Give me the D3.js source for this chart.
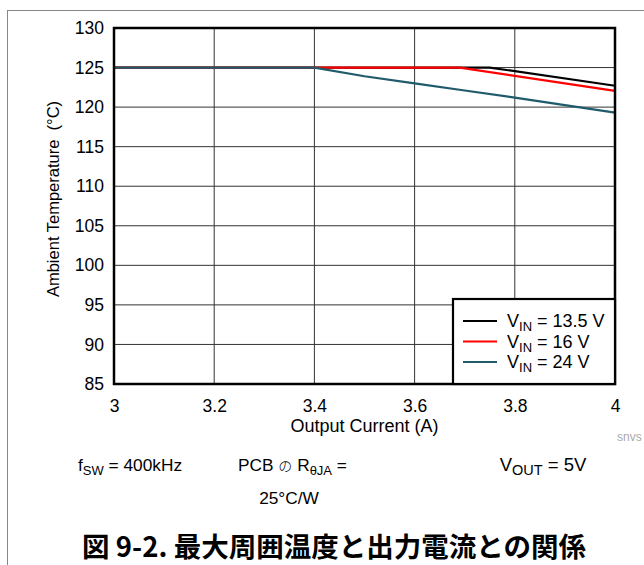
<!DOCTYPE html>
<html><head><meta charset="utf-8">
<script src="https://cdn.jsdelivr.net/npm/d3@7"></script>
<style>
body{margin:0;background:#fff;}
svg{display:block;font-family:"Liberation Sans",Arial,sans-serif;}
</style></head>
<body>
<script>
const xTicks = [3, 3.2, 3.4, 3.6, 3.8, 4];
const yTicks = [85, 90, 95, 100, 105, 110, 115, 120, 125, 130];
const seriesNames = ["13.5 V", "16 V", "24 V"];
const seriesColors = ["#000000", "#ff0000", "#1f5b6b"];
const current13 = [3, 3.75, 4];
const temp13 = [125, 125, 122.7];
const current16 = [3, 3.69, 4];
const temp16 = [125, 125, 122.05];
const current24 = [3, 3.4, 3.5, 3.6, 3.7, 3.8, 3.9, 4];
const temp24 = [125, 125, 123.9, 123.0, 122.1, 121.2, 120.25, 119.3];

const W = 644, H = 565;
const m = {left:114, top:28, right:615, bottom:384};
const svg = d3.select("body").append("svg").attr("width", W).attr("height", H);

svg.append("rect").attr("x",7.5).attr("y",10.5).attr("width",W).attr("height",H)
  .attr("fill","none").attr("stroke","#888").attr("stroke-width",1);

const x = d3.scaleLinear().domain([3,4]).range([m.left, m.right]);
const y = d3.scaleLinear().domain([85,130]).range([m.bottom, m.top]);

const g = svg.append("g");
g.selectAll(".vg").data(xTicks.slice(1,-1)).enter().append("line")
  .attr("x1",d=>x(d)).attr("x2",d=>x(d)).attr("y1",m.top).attr("y2",m.bottom)
  .attr("stroke","#333").attr("stroke-width",1);
g.selectAll(".hg").data(yTicks.slice(1,-1)).enter().append("line")
  .attr("y1",d=>y(d)).attr("y2",d=>y(d)).attr("x1",m.left).attr("x2",m.right)
  .attr("stroke","#333").attr("stroke-width",1);

const xAxis = d3.axisBottom(x).tickValues(xTicks).tickSize(0).tickPadding(16).tickFormat(d3.format("~g"));
const xa = svg.append("g").attr("transform",`translate(0,${m.bottom})`).call(xAxis);
xa.select(".domain").remove();
xa.selectAll("text").attr("font-size",17.5).attr("fill","#000").attr("font-family","Liberation Sans, Arial, sans-serif");

const yAxis = d3.axisLeft(y).tickValues(yTicks).tickSize(0).tickPadding(10).tickFormat(d3.format("d"));
const ya = svg.append("g").attr("transform",`translate(${m.left},0)`).call(yAxis);
ya.select(".domain").remove();
ya.selectAll("text").attr("font-size",17.5).attr("fill","#000").attr("font-family","Liberation Sans, Arial, sans-serif");

const data = [
  current13.map((c,i)=>[c,temp13[i]]),
  current16.map((c,i)=>[c,temp16[i]]),
  current24.map((c,i)=>[c,temp24[i]])
];
const line = d3.line().x(d=>x(d[0])).y(d=>y(d[1]));
data.forEach((s,i)=>{
  svg.append("path").attr("d",line(s)).attr("fill","none")
    .attr("stroke",seriesColors[i]).attr("stroke-width",2.2);
});

svg.append("rect").attr("x",m.left).attr("y",m.top).attr("width",m.right-m.left).attr("height",m.bottom-m.top)
  .attr("fill","none").attr("stroke","#000").attr("stroke-width",2.5);

const lg = svg.append("g");
lg.append("rect").attr("x",453).attr("y",299).attr("width",m.right-453).attr("height",m.bottom-299)
  .attr("fill","#fff").attr("stroke","#000").attr("stroke-width",2.2);
seriesNames.forEach((n,i)=>{
  const yy = 321 + i*20.5;
  lg.append("line").attr("x1",463).attr("x2",497).attr("y1",yy).attr("y2",yy)
    .attr("stroke",seriesColors[i]).attr("stroke-width",2);
  const t = lg.append("text").attr("x",507).attr("y",yy+6).attr("font-size",18).attr("fill","#000");
  t.append("tspan").text("V");
  t.append("tspan").attr("font-size",13).attr("dy",4).text("IN");
  t.append("tspan").attr("dy",-4).text(" = " + n);
});

svg.append("text").attr("x",(m.left+m.right)/2).attr("y",432).attr("text-anchor","middle")
  .attr("font-size",18).text("Output Current (A)");
svg.append("text").attr("transform",`translate(59,199) rotate(-90)`)
  .attr("text-anchor","middle").attr("font-size",16.5).attr("xml:space","preserve")
  .text("Ambient Temperature  (°C)");

svg.append("text").attr("x",617).attr("y",441).attr("font-size",12).attr("fill","#aaa").text("snvs");

const c1 = svg.append("text").attr("x",78).attr("y",471).attr("font-size",17.3);
c1.append("tspan").text("f");
c1.append("tspan").attr("font-size",13).attr("dy",4).text("SW");
c1.append("tspan").attr("dy",-4).text(" = 400kHz");

const c2 = svg.append("text").attr("x",238).attr("y",471).attr("font-size",17.3);
c2.append("tspan").text("PCB ");
c2.append("tspan").attr("font-family","Noto Sans CJK JP").attr("font-size",14).attr("font-weight","300").text("の");
c2.append("tspan").text(" R");
c2.append("tspan").attr("font-size",13).attr("dy",4).text("θJA");
c2.append("tspan").attr("dy",-4).text(" =");
svg.append("text").attr("x",289).attr("y",504).attr("text-anchor","middle").attr("font-size",17.3).text("25°C/W");

const c3 = svg.append("text").attr("x",543).attr("y",471).attr("font-size",18.5).attr("text-anchor","middle");
c3.append("tspan").text("V");
c3.append("tspan").attr("font-size",14.5).attr("dy",4).text("OUT");
c3.append("tspan").attr("dy",-4).text(" = 5V");

svg.append("text").attr("x",334).attr("y",557).attr("text-anchor","middle")
  .attr("font-family","Noto Sans CJK JP, sans-serif").attr("font-weight","bold").attr("font-size",27.5)
  .text("図 9-2. 最大周囲温度と出力電流との関係");
</script>
</body></html>
